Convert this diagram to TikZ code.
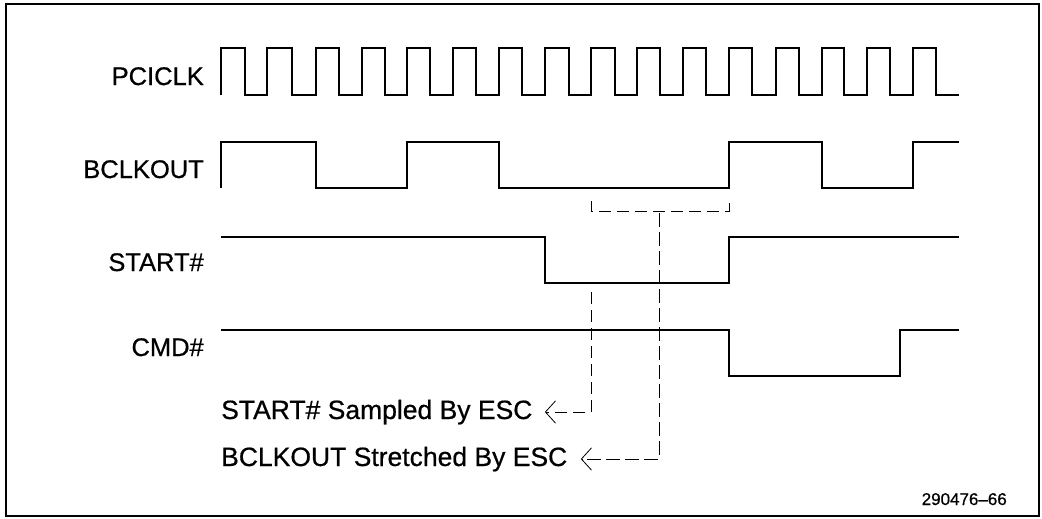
\documentclass[tikz,border=0pt]{standalone}
\usepackage{fontspec}
\setmainfont{Liberation Sans}
\newfontfamily\medfont[FakeBold=0.6]{Liberation Sans}
\usetikzlibrary{arrows.meta}
\begin{document}
\begin{tikzpicture}[x=1pt,y=-1pt,
  wave/.style={line width=1.6pt,line join=miter},
  dline/.style={line width=0.8pt,dash pattern=on 12pt off 6pt},
  sig/.style={anchor=base east,inner sep=0pt,font=\medfont\fontsize{25.5}{30}\selectfont},
  note/.style={anchor=base west,inner sep=0pt,font=\medfont\fontsize{26.5}{31}\selectfont},
  barb/.style={-{Straight Barb[length=10pt,width=22pt,line width=0.8pt,round]}}]
\useasboundingbox (0,0) rectangle (1042,519);
\draw[line width=1.2pt] (6,4) rectangle (1039,516);
% labels
\node[sig] (pciclk) at (204,85) {PCICLK};
\node[sig] (bclkout) at (204,178) {BCLKOUT};
\node[sig] (start) at (204,271) {START\#};
\node[sig] (cmd) at (204,356) {CMD\#};
% PCICLK
\draw[wave] (221,95) -- (221,48) -| (245,95) -| (267,48) -| (292,95) -| (316,48)
  -| (339,95) -| (362,48) -| (385,95) -| (407,48) -| (430,95) -| (453,48)
  -| (476,95) -| (499,48) -| (522,95) -| (545,48) -| (569,95) -| (591,48)
  -| (615,95) -| (637,48) -| (660,95) -| (683,48) -| (706,95) -| (729,48)
  -| (752,95) -| (776,48) -| (799,95) -| (822,48) -| (844,95) -| (867,48)
  -| (890,95) -| (913,48) -| (936,95) -- (959,95);
% BCLKOUT
\draw[wave] (221,188) -- (221,142) -| (316,188) -| (407,142) -| (499,188)
  -| (729,142) -| (822,188) -| (913,142) -- (959,142);
% START#
\draw[wave] (221,237) -| (545,283) -| (729,237) -- (959,237);
% CMD#
\draw[wave] (221,330) -| (729,376) -| (900,330) -- (959,330);
% notes
\node[note] (samp) at (221,419) {START\# Sampled By ESC};
\node[note] (strt) at (221,466) {BCLKOUT Stretched By ESC};
\node[anchor=base east,inner sep=0pt,font=\medfont\fontsize{17}{20}\selectfont] (fig) at (1007,505) {290476–66};
% dashed markers
\coordinate (br1) at (591,201);
\coordinate (br2) at (729,200);
\coordinate (s1) at (591,292);
\coordinate (a1) at (545,412);
\coordinate (s2) at (659,213);
\coordinate (a2) at (581,459);
\draw[dline] (br1) -- (591,211) -- (729,211) -- (br2);
\draw[dline,barb] (s1) |- (a1);
\draw[dline,barb,dash pattern=on 14pt off 5pt] (s2) |- (a2);
\end{tikzpicture}
\end{document}
